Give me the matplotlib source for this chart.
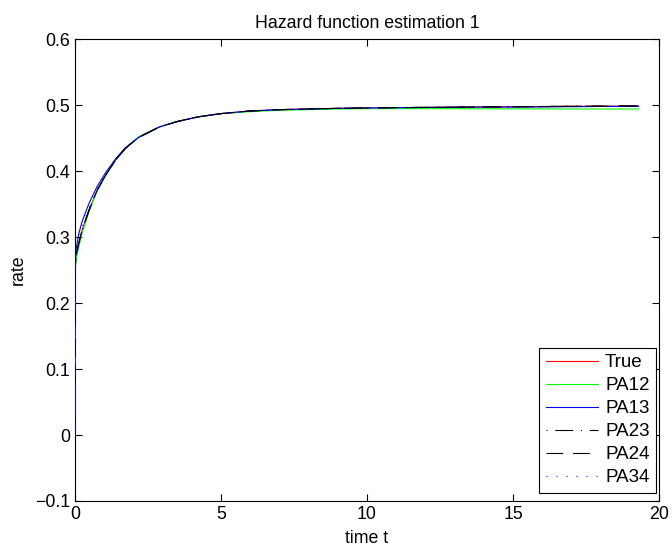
import matplotlib
matplotlib.use("Agg")
import matplotlib.pyplot as plt

plt.rcParams['font.family'] = ['Liberation Sans', 'DejaVu Sans']

# time grid
t = [0, 0.004, 0.05, 0.13, 0.24, 0.47, 0.75, 1.04, 1.38, 1.72, 2.18, 2.9, 3.5,
     4.2, 5.0, 6.0, 7.0, 8.0, 9.0, 10.0, 11.0, 12.5, 14.0, 15.5, 17.0, 18.5, 19.3]

true_h = [0, 0.255, 0.275, 0.290, 0.310, 0.340, 0.370, 0.393, 0.416, 0.434, 0.451,
          0.467, 0.475, 0.482, 0.487, 0.491, 0.493, 0.494, 0.495, 0.4955, 0.496,
          0.4965, 0.497, 0.4975, 0.498, 0.4982, 0.4985]
pa12 = [0, 0.250, 0.268, 0.285, 0.305, 0.337, 0.369, 0.393, 0.416, 0.435, 0.452,
        0.467, 0.475, 0.482, 0.487, 0.490, 0.492, 0.493, 0.494, 0.4945, 0.4945,
        0.4945, 0.4943, 0.4942, 0.494, 0.494, 0.494]
pa13 = [0, 0.262, 0.285, 0.305, 0.323, 0.350, 0.376, 0.397, 0.418, 0.435, 0.451,
        0.467, 0.475, 0.482, 0.487, 0.491, 0.493, 0.494, 0.495, 0.4955, 0.496,
        0.4965, 0.497, 0.497, 0.4975, 0.498, 0.498]
pa23 = [0, 0.256, 0.274, 0.290, 0.309, 0.339, 0.370, 0.393, 0.416, 0.434, 0.451,
        0.467, 0.475, 0.482, 0.487, 0.491, 0.493, 0.494, 0.495, 0.4957, 0.4962,
        0.4967, 0.4972, 0.4977, 0.4982, 0.4985, 0.4988]
pa24 = [0, 0.257, 0.275, 0.291, 0.310, 0.340, 0.370, 0.393, 0.416, 0.434, 0.451,
        0.467, 0.475, 0.482, 0.487, 0.491, 0.493, 0.494, 0.495, 0.4956, 0.4961,
        0.4966, 0.4971, 0.4976, 0.4981, 0.4984, 0.4987]
pa34 = [0, 0.258, 0.278, 0.295, 0.314, 0.343, 0.372, 0.394, 0.417, 0.434, 0.451,
        0.467, 0.475, 0.482, 0.487, 0.491, 0.493, 0.494, 0.495, 0.4955, 0.496,
        0.4965, 0.497, 0.4973, 0.4978, 0.498, 0.4983]

series_labels = ['True', 'PA12', 'PA13', 'PA23', 'PA24', 'PA34']

fig = plt.figure(figsize=(6.72, 5.5), dpi=100)
ax = fig.add_axes([0.1116, 0.0891, 0.8691, 0.8399])

lw = 0.8
ax.plot(t, true_h, color=(1, 0, 0), lw=lw, label=series_labels[0], zorder=3)
ax.plot(t, pa12, color=(0, 1, 0), lw=lw, label=series_labels[1], zorder=3)
ax.plot(t, pa13, color=(0, 0, 1), lw=lw, label=series_labels[2], zorder=3)
ax.plot(t, pa23, color='k', lw=lw, ls=(0, (1, 7, 16, 7)), label=series_labels[3], zorder=3)
ax.plot(t, pa24, color='k', lw=lw, ls=(0, (15, 9)), label=series_labels[4], zorder=3)
ax.plot(t, pa34, color=(0, 0, 1), lw=lw, ls=(0, (1, 8)), label=series_labels[5], zorder=3)

ax.set_xlim(0, 20)
ax.set_ylim(-0.1, 0.6)
ax.set_xticks([0, 5, 10, 15, 20])
ax.set_yticks([-0.1, 0, 0.1, 0.2, 0.3, 0.4, 0.5, 0.6])
ax.set_yticklabels(['\u22120.1', '0', '0.1', '0.2', '0.3', '0.4', '0.5', '0.6'])
ax.tick_params(direction='in', top=True, right=True, labelsize=12.8, length=5, width=0.8)
for s in ax.spines.values():
    s.set_linewidth(0.8)

ax.set_title('Hazard function estimation 1', fontsize=12.8, pad=8)
ax.set_xlabel('time t', fontsize=12.8, labelpad=5)
ax.set_ylabel('rate', fontsize=12.8, labelpad=6)

leg = ax.legend(loc='lower right', bbox_to_anchor=(0.995, 0.018), borderaxespad=0,
                fontsize=13.5, frameon=True, fancybox=False, framealpha=1,
                edgecolor='k', handlelength=2.8, handletextpad=0.35,
                labelspacing=0.31, borderpad=0.35)
leg.get_frame().set_linewidth(0.8)
leg.set_zorder(5)

fig.savefig('out.png', dpi=100)
